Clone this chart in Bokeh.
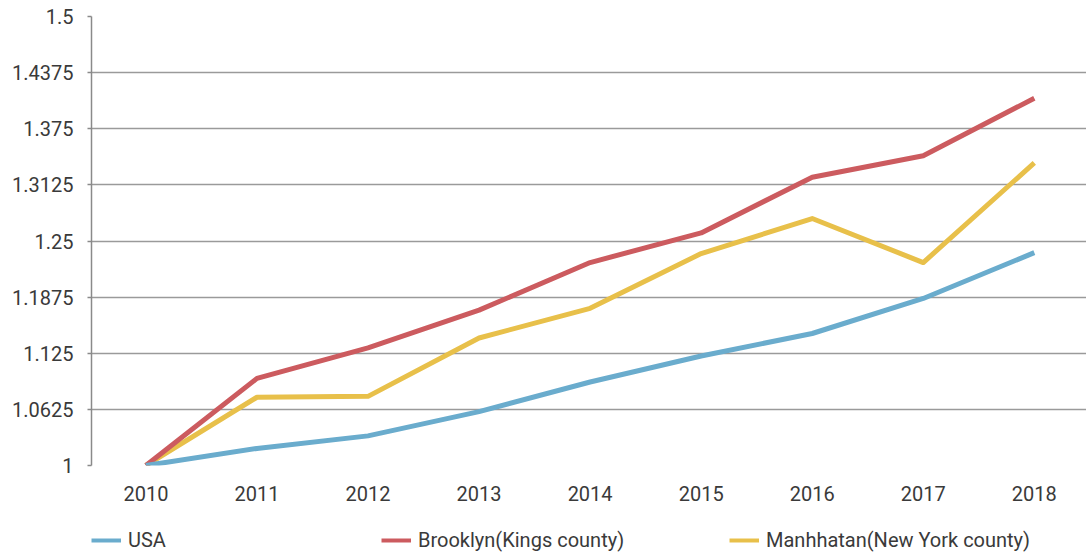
from bokeh.plotting import figure
from bokeh.layouts import column
from bokeh.models import Range1d, FixedTicker, Legend, LegendItem
from bokeh.embed import file_html
from bokeh.resources import INLINE

years = [2010, 2011, 2012, 2013, 2014, 2015, 2016, 2017, 2018]
usa = [1.0, 1.019, 1.033, 1.060, 1.093, 1.122, 1.147, 1.186, 1.237]
brooklyn = [1.0, 1.097, 1.131, 1.173, 1.226, 1.259, 1.321, 1.345, 1.409]
manhattan = [1.0, 1.076, 1.077, 1.142, 1.175, 1.236, 1.275, 1.226, 1.337]
y_ticks = [1.0, 1.0625, 1.125, 1.1875, 1.25, 1.3125, 1.375, 1.4375, 1.5]
y_tick_labels = ["1", "1.0625", "1.125", "1.1875", "1.25", "1.3125", "1.375", "1.4375", "1.5"]
series_names = ["USA", "Brooklyn(Kings county)", "Manhhatan(New York county)"]
colors = ["#6aaccd", "#cc5b5f", "#e8c04a"]

FONT = "Roboto"
TEXT_COLOR = "#3a3a3a"

p = figure(width=1086, height=510, output_backend="svg", toolbar_location=None,
           x_range=Range1d(2009.51, 2018.47), y_range=Range1d(1.0, 1.5),
           min_border_left=91, min_border_right=0, min_border_top=16, min_border_bottom=45)
p.outline_line_color = None
p.background_fill_color = "white"
p.border_fill_color = "white"

# grid
p.xgrid.grid_line_color = None
p.ygrid.ticker = FixedTicker(ticks=y_ticks)
p.ygrid.grid_line_color = "#9a9a9a"
p.ygrid.grid_line_width = 1.5

# y axis
p.yaxis.ticker = FixedTicker(ticks=y_ticks)
p.yaxis.major_label_overrides = {t: l for t, l in zip(y_ticks, y_tick_labels)}
p.yaxis.axis_line_color = "#8a8a8a"
p.yaxis.axis_line_width = 1.5
p.yaxis.major_tick_line_color = "#8a8a8a"
p.yaxis.major_tick_line_width = 1.5
p.yaxis.major_tick_out = 4
p.yaxis.major_tick_in = 0
p.yaxis.minor_tick_line_color = None
p.yaxis.major_label_standoff = 14
p.yaxis.major_label_text_font = FONT
p.yaxis.major_label_text_font_size = "20px"
p.yaxis.major_label_text_color = TEXT_COLOR

# x axis
p.xaxis.ticker = FixedTicker(ticks=years)
p.xaxis.major_label_overrides = {y: str(y) for y in years}
p.xaxis.axis_line_color = None
p.xaxis.major_tick_line_color = None
p.xaxis.minor_tick_line_color = None
p.xaxis.major_label_standoff = 14
p.xaxis.major_label_text_font = FONT
p.xaxis.major_label_text_font_size = "20px"
p.xaxis.major_label_text_color = TEXT_COLOR

p.line(years, manhattan, line_color=colors[2], line_width=5, line_join="round")
p.line(years, brooklyn, line_color=colors[1], line_width=5, line_join="round")
p.line(years, usa, line_color=colors[0], line_width=5, line_join="round")

# legend strip below the chart (its frame is aligned with the chart's frame)
p2 = figure(width=1086, height=48, output_backend="svg", toolbar_location=None,
            x_range=Range1d(0, 1), y_range=Range1d(0, 1), min_border=0)
p2.axis.visible = False
p2.grid.visible = False
p2.outline_line_color = None
p2.border_fill_color = "white"
series = [usa, brooklyn, manhattan]
swatches = [p2.line(x=years[:1], y=s[:1], line_color=c, line_width=4)
            for s, c in zip(series, colors)]
items = [LegendItem(label=n, renderers=[r]) for n, r in zip(series_names, swatches)]


def make_legend(its, loc):
    lg = Legend(items=its, orientation="horizontal", location=loc)
    lg.border_line_color = None
    lg.background_fill_alpha = 0
    lg.glyph_width = 30
    lg.glyph_height = 20
    lg.label_height = 20
    lg.label_standoff = 7
    lg.label_width = 311
    lg.spacing = 0
    lg.padding = 0
    lg.margin = 0
    lg.label_text_font = FONT
    lg.label_text_font_size = "20px"
    lg.label_text_color = TEXT_COLOR
    return lg


p2.add_layout(make_legend(items[:1], (0, 6)), "center")
p2.add_layout(make_legend(items[1:], (290, 6)), "center")

layout = column(p, p2, spacing=0)
open("out.html", "w").write(file_html(layout, INLINE))
